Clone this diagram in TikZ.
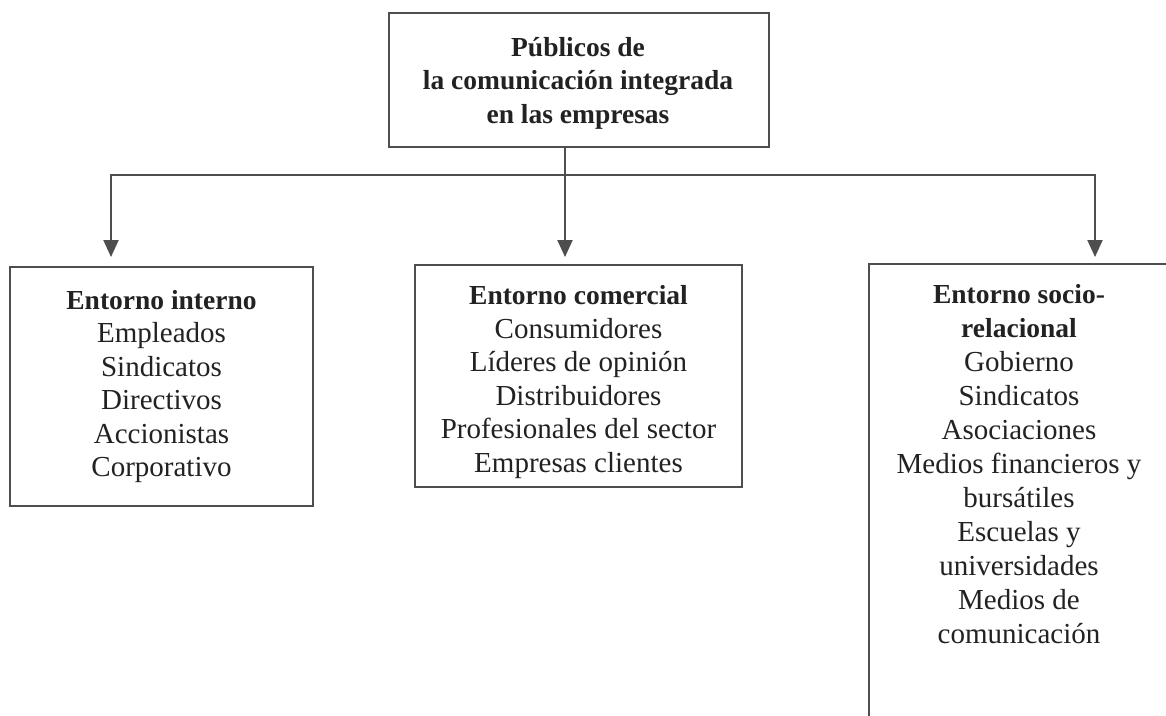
\documentclass[tikz,border=0pt]{standalone}
\usepackage{fontspec}
\setmainfont{Liberation Serif}
\usetikzlibrary{arrows.meta}
\definecolor{linegray}{HTML}{4E4E4E}
\definecolor{txtgray}{HTML}{222222}
\newcommand\hdr[1]{{\fontsize{27.5}{33.5}\selectfont\bfseries #1}}
\begin{document}
\begin{tikzpicture}[x=1pt,y=-1pt,
  box/.style={draw=linegray, line width=2pt, rectangle, inner sep=0pt, align=center,
    text=txtgray, font=\fontsize{29}{33.5}\selectfont},
  lbl/.style={inner sep=0pt, align=center, text=txtgray, font=\fontsize{29}{33.5}\selectfont},
  ln/.style={draw=linegray, line width=2pt},
  arr/.style={ln, -{Triangle[width=15pt,length=17pt]}}]
\clip (0,0) rectangle (1166,715);
\fill[white] (0,0) rectangle (1166,715);

\node[box, minimum width=380pt, minimum height=134pt] (top) at (579,80) {};
\node[lbl] (toptxt) at (578,83)
  {\hdr{Públicos de}\\ \hdr{la comunicación integrada}\\ \hdr{en las empresas}};

\node[box, minimum width=303pt, minimum height=239pt] (l) at (161.5,386.5)
  {\hdr{Entorno interno}\\ Empleados\\ Sindicatos\\ Directivos\\ Accionistas\\ Corporativo};

\node[box, minimum width=327pt, minimum height=222pt] (m) at (578.5,376) {};
\node[lbl] (mt) at (578.5,382)
  {\hdr{Entorno comercial}\\ Consumidores\\ Líderes de opinión\\ Distribuidores\\ Profesionales del sector\\ Empresas clientes};

\node[box, minimum width=302pt, minimum height=470pt, anchor=north west] (r) at (868,263) {};
\node[lbl, anchor=north, font=\fontsize{29}{34}\selectfont] (rt) at (1019,284)
  {\hdr{Entorno socio-}\\ \hdr{relacional}\\ Gobierno\\ Sindicatos\\ Asociaciones\\ Medios financieros y\\ bursátiles\\ Escuelas y\\ universidades\\ Medios de\\ comunicación};

\coordinate (j) at (565,175);
\coordinate (al) at (111,257);
\coordinate (am) at (565,257);
\coordinate (ar) at (1095,257);
\draw[ln] (top.south -| j) -- (j);
\draw[arr] (j) -| (al);
\draw[arr] (j) -| (ar);
\draw[arr] (j) -- (am);
\end{tikzpicture}
\end{document}
